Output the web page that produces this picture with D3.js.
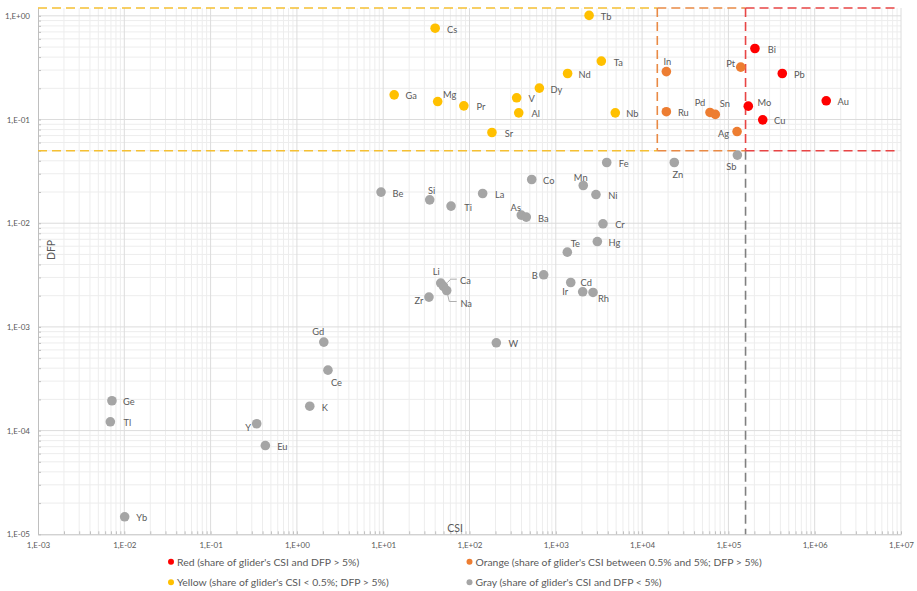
<!DOCTYPE html>
<html>
<head>
<meta charset="utf-8">
<script src="https://cdn.jsdelivr.net/npm/d3@7"></script>
<style>
  html, body { margin: 0; padding: 0; background: #ffffff; }
  svg { display: block; font-family: Lato, "Open Sans", sans-serif; }
</style>
</head>
<body>
<svg id="chart" width="917" height="591"></svg>
<script>
// ---------- DATA ----------
const elements = ["Cs","Tb","Ta","Nd","Dy","V","Al","Ga","Mg","Pr","Sr","Nb",
  "In","Ru","Pt","Pd","Sn","Ag",
  "Bi","Pb","Mo","Cu","Au",
  "Zn","Sb","Fe","Be","Si","Ti","La","Co","Mn","Ni","As","Ba","Cr","Te","Hg","B","Cd","Ir","Rh","Li","Ca","Na","Zr","Gd","Ce","K","Y","Eu","Ge","Tl","Yb","W"];
const csiValues = [40, 2430, 3370, 1370, 645, 352, 372, 13.4, 42.8, 86, 182, 4890,
  19100, 19100, 139000, 61200, 70500, 126000,
  203000, 421000, 170000, 250000, 1360000,
  23600, 127000, 3890, 9.44, 34.6, 61.1, 142, 526, 2080, 2920, 398, 455, 3520, 1360, 3030, 724, 1490, 2050, 2700, 46.4, 50.0, 54.4, 33.9, 2.05, 2.29, 1.41, 0.342, 0.431, 0.00719, 0.00689, 0.0101, 204.5];
const dfpValues = [0.76, 1.01, 0.366, 0.278, 0.201, 0.162, 0.116, 0.173, 0.149, 0.1355, 0.075, 0.116,
  0.290, 0.119, 0.320, 0.117, 0.112, 0.0766,
  0.484, 0.278, 0.1346, 0.0993, 0.1515,
  0.0385, 0.0454, 0.0385, 0.01995, 0.0168, 0.01463, 0.01934, 0.0264, 0.0231, 0.0189, 0.01197, 0.01145, 0.00987, 0.00526, 0.00666, 0.00318, 0.00268, 0.00218, 0.00215, 0.002645, 0.00246, 0.002245, 0.001938, 0.000714, 0.000383, 0.000172, 0.0001164, 0.0000718, 0.000194, 0.0001216, 0.00001475, 0.000703];
const groupOf = ["yellow","yellow","yellow","yellow","yellow","yellow","yellow","yellow","yellow","yellow","yellow","yellow",
  "orange","orange","orange","orange","orange","orange",
  "red","red","red","red","red",
  "gray","gray","gray","gray","gray","gray","gray","gray","gray","gray","gray","gray","gray","gray","gray","gray","gray","gray","gray","gray","gray","gray","gray","gray","gray","gray","gray","gray","gray","gray","gray","gray"];

const groupKeys = ["red","orange","yellow","gray"];
const groupLabels = [
  "Red (share of glider's CSI and DFP > 5%)",
  "Orange (share of glider's CSI between 0.5% and 5%; DFP > 5%)",
  "Yellow (share of glider's CSI < 0.5%; DFP > 5%)",
  "Gray (share of glider's CSI and DFP < 5%)"
];
const xTickExponents = [-3,-2,-1,0,1,2,3,4,5,6,7];
const yTickExponents = [-5,-4,-3,-2,-1,0];
const dfpThreshold = 0.05;
const csiThresholdOrange = 15000;
const csiThresholdRed = 158000;
const yTopValue = 1.19;
const xAxisTitle = "CSI";
const yAxisTitle = "DFP";

// ---------- STYLE / LAYOUT ----------
const colors = { red: "#FF0000", orange: "#ED7D31", yellow: "#FFC000", gray: "#A5A5A5" };
const dashColors = { red: "#E84545", orange: "#E98A45", yellow: "#F5C033", gray: "#808080" };
// label centre offsets from marker (px); default to the right
const labelOffset = {
  Mg: [12, -7], In: [1, -10.5], Pt: [-10, -4], Pd: [-10, -10], Sn: [9.5, -10.5],
  Ag: [-13.5, 1.5], Mo: [16, -4], Zn: [3.5, 11.5], Sb: [-6, 11],
  Si: [2, -9], Mn: [-2.5, -8], As: [-5.5, -8], Te: [8, -9], B: [-9, 0.5],
  Ir: [-17.5, 0], Rh: [10.5, 6], Li: [-4.5, -11.5], Ca: [22, -6], Na: [19.5, 13.5],
  Zr: [-10, 3.5], Gd: [-5.5, -10.5], Ce: [8.5, 12.5], Y: [-8.5, 3.5], V: [15, 1], K: [15, 1],
  Cd: [15.5, 0]
};
const leaderLines = {
  Ca: [[3.8, -3.8], [7.2, -7.2], [13.2, -7.2]],
  Na: [[0.6, 2.6], [2.6, 11], [10, 11]]
};

const pLeft = 38, pRight = 901, pTop = 8, pBottom = 534.3;

const svg = d3.select("#chart");

const x = d3.scaleLog().domain([1e-3, 1e7]).range([pLeft, pRight]);
const y = d3.scaleLog().domain([1e-5, yTopValue]).range([pBottom, pTop]);

const fmt = e => "1,E" + (e < 0 ? "-" : "+") + String(Math.abs(e)).padStart(2, "0");

// ---------- GRID ----------
const grid = svg.append("g");
const minorX = [], minorY = [];
for (let e = -3; e < 7; e++) for (let m = 2; m <= 9; m++) minorX.push(m * Math.pow(10, e));
for (let e = -5; e < 0; e++) for (let m = 2; m <= 9; m++) minorY.push(m * Math.pow(10, e));

grid.selectAll(".vminor").data(minorX).enter().append("line")
  .attr("x1", d => x(d)).attr("x2", d => x(d)).attr("y1", pTop).attr("y2", pBottom)
  .attr("stroke", "#EDEDED").attr("stroke-width", 1);
grid.selectAll(".hminor").data(minorY).enter().append("line")
  .attr("x1", pLeft).attr("x2", pRight).attr("y1", d => y(d)).attr("y2", d => y(d))
  .attr("stroke", "#EDEDED").attr("stroke-width", 1);
grid.selectAll(".vmajor").data(xTickExponents.slice(1)).enter().append("line")
  .attr("x1", d => x(Math.pow(10, d))).attr("x2", d => x(Math.pow(10, d))).attr("y1", pTop).attr("y2", pBottom)
  .attr("stroke", "#DCDCDC").attr("stroke-width", 1);
grid.selectAll(".hmajor").data(yTickExponents.slice(1)).enter().append("line")
  .attr("x1", pLeft).attr("x2", pRight).attr("y1", d => y(Math.pow(10, d))).attr("y2", d => y(Math.pow(10, d)))
  .attr("stroke", "#DCDCDC").attr("stroke-width", 1);

// ---------- AXES ----------
const xAxis = d3.axisBottom(x).tickValues(xTickExponents.map(e => Math.pow(10, e)))
  .tickFormat((d, i) => fmt(xTickExponents[i])).tickSize(0).tickPadding(8);
const gx = svg.append("g").attr("transform", `translate(0,${pBottom})`).call(xAxis);
gx.select(".domain").attr("stroke", "#BFBFBF");
gx.selectAll("text").attr("fill", "#595959").style("font-size", "8px").style("font-family", "Lato, sans-serif");

const yAxis = d3.axisLeft(y).tickValues(yTickExponents.map(e => Math.pow(10, e)))
  .tickFormat((d, i) => fmt(yTickExponents[i])).tickSize(0).tickPadding(8);
const gy = svg.append("g").attr("transform", `translate(${pLeft},0)`).call(yAxis);
gy.select(".domain").attr("stroke", "#BFBFBF");
gy.selectAll("text").attr("fill", "#595959").style("font-size", "8px").style("font-family", "Lato, sans-serif");

// inside minor ticks
const gxm = svg.append("g").attr("transform", `translate(0,${pBottom})`)
  .call(d3.axisBottom(x).tickValues(minorX.concat(xTickExponents.map(e => Math.pow(10, e)))).tickFormat("").tickSize(-3));
gxm.select(".domain").remove();
gxm.selectAll("line").attr("stroke", "#BFBFBF");
const gym = svg.append("g").attr("transform", `translate(${pLeft},0)`)
  .call(d3.axisLeft(y).tickValues(minorY.concat(yTickExponents.map(e => Math.pow(10, e)))).tickFormat("").tickSize(-3));
gym.select(".domain").remove();
gym.selectAll("line").attr("stroke", "#BFBFBF");

// ---------- THRESHOLD DASHED LINES ----------
const dash = "9,5";
const th = svg.append("g").attr("fill", "none").attr("stroke-width", 1.6).attr("stroke-dasharray", dash);
const yT = y(dfpThreshold), xO = x(csiThresholdOrange), xR = x(csiThresholdRed);
th.append("line").attr("x1", xR).attr("x2", xR).attr("y1", yT).attr("y2", pBottom).attr("stroke", dashColors.gray);
th.append("line").attr("x1", pLeft).attr("x2", xO).attr("y1", pTop).attr("y2", pTop).attr("stroke", dashColors.yellow);
th.append("line").attr("x1", pLeft).attr("x2", xO).attr("y1", yT).attr("y2", yT).attr("stroke", dashColors.yellow);
th.append("line").attr("x1", xO).attr("x2", xR).attr("y1", pTop).attr("y2", pTop).attr("stroke", dashColors.orange);
th.append("line").attr("x1", xO).attr("x2", xR).attr("y1", yT).attr("y2", yT).attr("stroke", dashColors.orange);
th.append("line").attr("x1", xO).attr("x2", xO).attr("y1", pTop).attr("y2", yT).attr("stroke", dashColors.orange);
th.append("line").attr("x1", xR).attr("x2", pRight - 3).attr("y1", pTop).attr("y2", pTop).attr("stroke", dashColors.red);
th.append("line").attr("x1", xR).attr("x2", pRight - 3).attr("y1", yT).attr("y2", yT).attr("stroke", dashColors.red);
th.append("line").attr("x1", xR).attr("x2", xR).attr("y1", pTop).attr("y2", yT).attr("stroke", dashColors.red);

// ---------- POINTS ----------
const pts = elements.map((el, i) => ({ el, csi: csiValues[i], dfp: dfpValues[i], g: groupOf[i] }));
const drawOrder = ["gray", "yellow", "orange", "red"];
const sorted = pts.slice().sort((a, b) => drawOrder.indexOf(a.g) - drawOrder.indexOf(b.g));

// leader lines
Object.keys(leaderLines).forEach(el => {
  const p = pts.find(q => q.el === el);
  const px = x(p.csi), py = y(p.dfp);
  svg.append("path")
    .attr("d", d3.line()(leaderLines[el].map(([dx, dy]) => [px + dx, py + dy])))
    .attr("fill", "none").attr("stroke", "#A5A5A5").attr("stroke-width", 0.9);
});

svg.append("g").selectAll("circle").data(sorted).enter().append("circle")
  .attr("cx", d => x(d.csi)).attr("cy", d => y(d.dfp)).attr("r", 4.8)
  .attr("fill", d => colors[d.g]);

svg.append("g").selectAll("text").data(pts).enter().append("text")
  .attr("x", d => x(d.csi) + (labelOffset[d.el] ? labelOffset[d.el][0] : 17))
  .attr("y", d => y(d.dfp) + (labelOffset[d.el] ? labelOffset[d.el][1] : 1))
  .attr("text-anchor", "middle").attr("dominant-baseline", "central")
  .attr("fill", "#595959").style("font-size", "9.3px")
  .text(d => d.el);

// ---------- AXIS TITLES ----------
svg.append("text").attr("x", 455).attr("y", 528).attr("text-anchor", "middle").attr("dominant-baseline", "central")
  .attr("fill", "#595959").style("font-size", "10.5px").text(xAxisTitle);
svg.append("text").attr("transform", "translate(51,250) rotate(-90)").attr("text-anchor", "middle").attr("dominant-baseline", "central")
  .attr("fill", "#595959").style("font-size", "10.5px").text(yAxisTitle);

// ---------- LEGEND ----------
const legPos = [[171, 561.7], [469.5, 561.7], [171, 582.3], [469.5, 582.3]];
const leg = svg.append("g");
groupKeys.forEach((k, i) => {
  const [lx, ly] = legPos[i];
  leg.append("circle").attr("cx", lx).attr("cy", ly).attr("r", 3).attr("fill", colors[k]);
  leg.append("text").attr("x", lx + 6).attr("y", ly).attr("dominant-baseline", "central")
    .attr("fill", "#595959").style("font-size", "10.4px").text(groupLabels[i]);
});
</script>
</body>
</html>
